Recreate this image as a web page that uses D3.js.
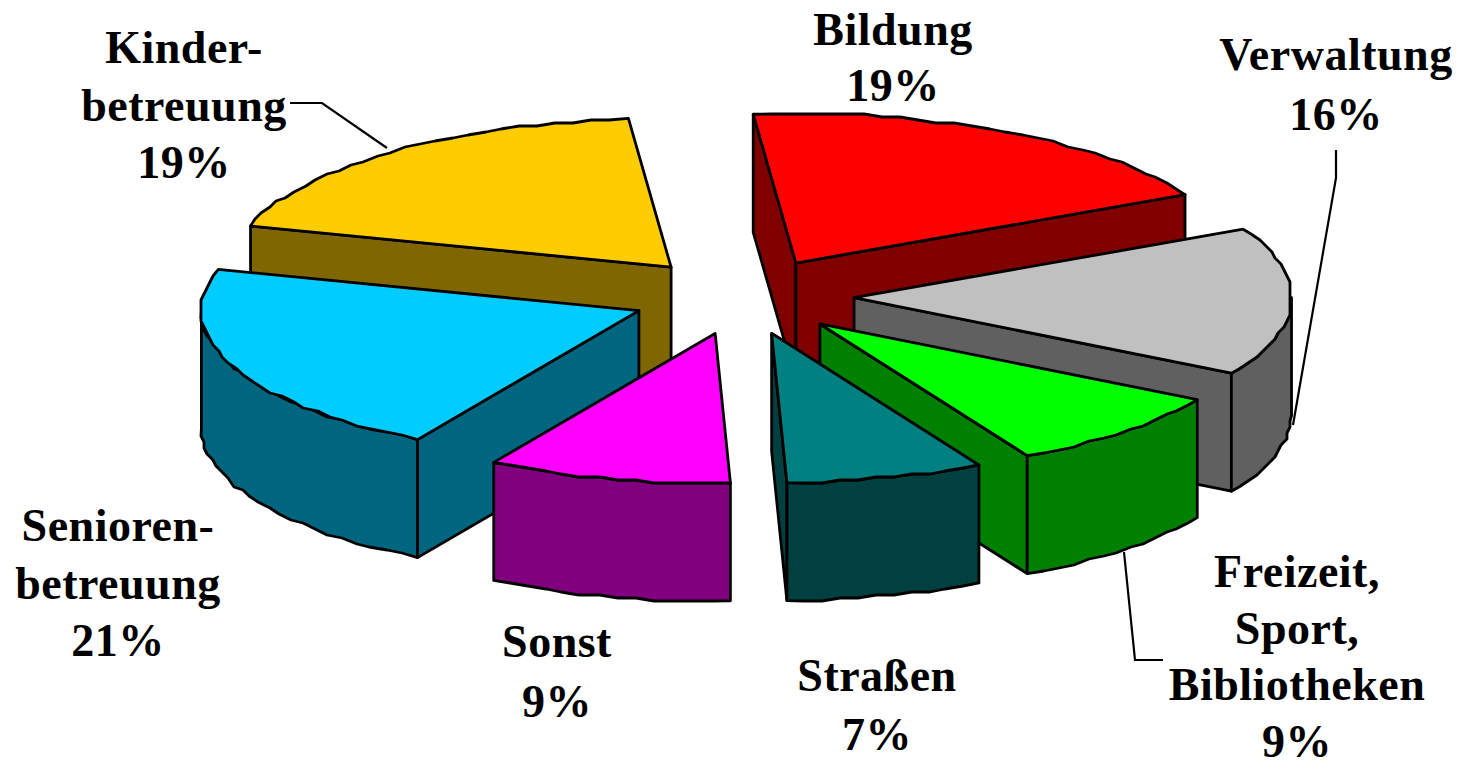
<!DOCTYPE html>
<html>
<head>
<meta charset="utf-8">
<script src="https://cdn.jsdelivr.net/npm/d3@7"></script>
<style>
    html, body { margin: 0; padding: 0; background: #fff; }
    svg { display: block; }
    text { font-family: "Liberation Serif", serif; font-weight: bold; fill: #000; text-anchor: middle; letter-spacing: 0.5px; }
</style>
</head>
<body>
<div id="chart"></div>
<script>
var categories = ["Bildung", "Verwaltung", "Freizeit, Sport, Bibliotheken", "Straßen", "Sonst", "Seniorenbetreuung", "Kinderbetreuung"];
var shares = [19, 16, 8.7, 7.3, 9, 21, 19];     // drawn sizes, the labels below are rounded
var labelLines = [
    ["Bildung", "19%"],
    ["Verwaltung", "16%"],
    ["Freizeit,", "Sport,", "Bibliotheken", "9%"],
    ["Straßen", "7%"],
    ["Sonst", "9%"],
    ["Senioren-", "betreuung", "21%"],
    ["Kinder-", "betreuung", "19%"]
];
var topColors = ["#ff0000", "#c0c0c0", "#00ff00", "#008080", "#ff00ff", "#00ccff", "#ffcc00"];

// layout
var width = 1466, height = 767;
var cx = 742.5, cy = 296.5, rx = 437.5, ry = 149.5;
var depth = 118;
var explode = 0.255;
var firstAngle = -5.6 * Math.PI / 180;
var grid = 3;                                   // the arcs in the original are rough, snap them to a coarse grid
var rimStep = 2.5 * Math.PI / 180;

var labelX = [893, 1336, 1297, 877, 557, 118, 184];
var labelY = [45, 70, 587, 691, 657, 541, 63];
var labelStep = [56, 60, 56.7, 59, 60, 57.5, 57.5];
var fontSize = 46;

var leaders = [
    [[290, 103], [322, 103], [387, 148]],
    [[1336, 150], [1336, 178], [1293, 425]],
    [[1124, 552], [1135, 660], [1163, 660]]
];

var svg = d3.select("#chart").append("svg")
    .attr("width", width)
    .attr("height", height);

var x = d3.scaleLinear().domain([-1, 1]).range([cx - rx, cx + rx]);
var y = d3.scaleLinear().domain([-1, 1]).range([cy + ry, cy - ry]);

var pie = d3.pie().sort(null).startAngle(firstAngle).endAngle(firstAngle + 2 * Math.PI);
var slices = pie(shares);

var line = d3.line();

function snap(v) {
    return Math.round(v / grid) * grid;
}

// apex of a slice after pulling it out of the pie
function apexOf(s) {
    var mid = (s.startAngle + s.endAngle) / 2;
    return [explode * Math.sin(mid), explode * Math.cos(mid)];
}

function rim(s, angle) {
    var apex = apexOf(s);
    return [x(apex[0] + Math.sin(angle)), y(apex[1] + Math.cos(angle))];
}

function rimPoints(s, from, to) {
    var pts = [rim(s, from)];
    var n = Math.ceil((to - from) / rimStep);
    for (var i = 1; i < n; i++) {
        var p = rim(s, from + (to - from) * i / n);
        pts.push([snap(p[0]), snap(p[1])]);
    }
    pts.push(rim(s, to));
    return pts;
}

function down(p) {
    return [p[0], p[1] + depth];
}

function drawPoly(pts, fill) {
    svg.append("path")
        .attr("d", line(pts) + "Z")
        .attr("fill", fill)
        .attr("stroke", "#000")
        .attr("stroke-width", 2.8)
        .attr("stroke-linejoin", "round");
}

// back slices first
var order = d3.range(slices.length).sort(function(a, b) {
    return apexOf(slices[b])[1] - apexOf(slices[a])[1];
});

order.forEach(function(i) {
    var s = slices[i];
    var top = d3.color(topColors[i]);
    var side = d3.rgb(top.r / 2, top.g / 2, top.b / 2);
    var apex = apexOf(s);
    var A = [x(apex[0]), y(apex[1])];
    var S = rim(s, s.startAngle);
    var E = rim(s, s.endAngle);

    // a straight wall shows only if its top edge runs leftwards going clockwise
    if (S[0] < A[0]) drawPoly([A, S, down(S), down(A)], side);
    if (A[0] < E[0]) drawPoly([E, A, down(A), down(E)], side);

    // outer wall, only the part on the front half of the ellipse
    var from = Math.max(s.startAngle, Math.PI / 2);
    var to = Math.min(s.endAngle, 3 * Math.PI / 2);
    if (from < to) {
        var front = rimPoints(s, from, to);
        drawPoly(front.concat(front.slice().reverse().map(down)), side);
    }

    drawPoly([A].concat(rimPoints(s, s.startAngle, s.endAngle)), top);
});

leaders.forEach(function(l) {
    svg.append("path")
        .attr("d", line(l))
        .attr("fill", "none")
        .attr("stroke", "#000")
        .attr("stroke-width", 2.2);
});

svg.selectAll("g.label")
    .data(labelLines)
    .enter()
    .append("g")
    .attr("class", "label")
    .each(function(lines, i) {
        d3.select(this).selectAll("text")
            .data(lines)
            .enter()
            .append("text")
            .attr("x", labelX[i])
            .attr("y", function(d, j) { return labelY[i] + j * labelStep[i]; })
            .attr("font-size", fontSize)
            .text(function(d) { return d; });
    });
</script>
</body>
</html>
